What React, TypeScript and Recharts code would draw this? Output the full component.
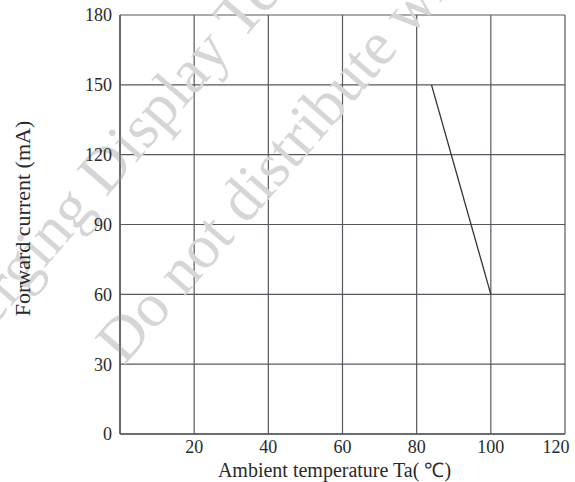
import { LineChart, Line, XAxis, YAxis, CartesianGrid, Label } from "recharts";

const temps = [84, 100];
const currents = [150, 60];
const xTicks = [20, 40, 60, 80, 100, 120];
const yTicks = [0, 30, 60, 90, 120, 150, 180];

const data = temps.map((t, i) => ({ t, i: currents[i] }));

const FONT = '"Liberation Serif", "Times New Roman", serif';
const GRID = "#55585e";
const TEXT = "#2a2a2a";

// faint scanned-document watermark behind the grid
function Watermark() {
  const common = {
    fontFamily: FONT,
    fontSize: 62,
    fill: "#d6d6d6",
  };
  return (
    <g>
      <text x={-64} y={393} transform="rotate(-49 -64 393)" {...common}>
        Emerging Display Te
      </text>
      <text x={124} y={366} transform="rotate(-49 124 366)" {...common}>
        Do not distribute wi
      </text>
    </g>
  );
}

function XTick(props: any) {
  const { x, y, payload } = props;
  // the last label sits a little inside the frame in the original
  const shift = payload.value === 120 ? -7 : 0;
  return (
    <text
      x={x + shift}
      y={y}
      dy="0.71em"
      textAnchor="middle"
      fontSize={18}
      fill={TEXT}
      fontFamily={FONT}
    >
      {payload.value}
    </text>
  );
}

export default function App() {
  return (
    <div style={{ position: "absolute", left: 0, top: 0, background: "#fff" }}>
      <LineChart
        width={575}
        height={482}
        data={data}
        margin={{ top: 15, right: 10, bottom: 0, left: 0 }}
        style={{ fontFamily: FONT }}
      >
        <Watermark />
        <CartesianGrid stroke={GRID} strokeWidth={1.2} />
        <XAxis
          type="number"
          dataKey="t"
          domain={[0, 120]}
          ticks={xTicks}
          height={48}
          tickLine={false}
          tickMargin={0}
          axisLine={{ stroke: GRID, strokeWidth: 1.5 }}
          tick={<XTick />}
        >
          <Label
            value="Ambient temperature Ta( ℃)"
            position="insideBottom"
            offset={5}
            dx={-8}
            style={{ fontSize: 20, fill: TEXT, fontFamily: FONT }}
          />
        </XAxis>
        <YAxis
          type="number"
          domain={[0, 180]}
          ticks={yTicks}
          width={120}
          tickLine={false}
          axisLine={{ stroke: GRID, strokeWidth: 1.5 }}
          tick={{ fontSize: 18, fill: TEXT, fontFamily: FONT }}
        >
          <Label
            value="Forward current (mA)"
            position="insideLeft"
            angle={-90}
            offset={22}
            textAnchor="middle"
            dy={-6}
            style={{ fontSize: 22, fill: TEXT, fontFamily: FONT, textAnchor: "middle" }}
          />
        </YAxis>
        <Line
          type="linear"
          dataKey="i"
          stroke="#333"
          strokeWidth={1.3}
          dot={false}
          isAnimationActive={false}
        />
      </LineChart>
    </div>
  );
}
